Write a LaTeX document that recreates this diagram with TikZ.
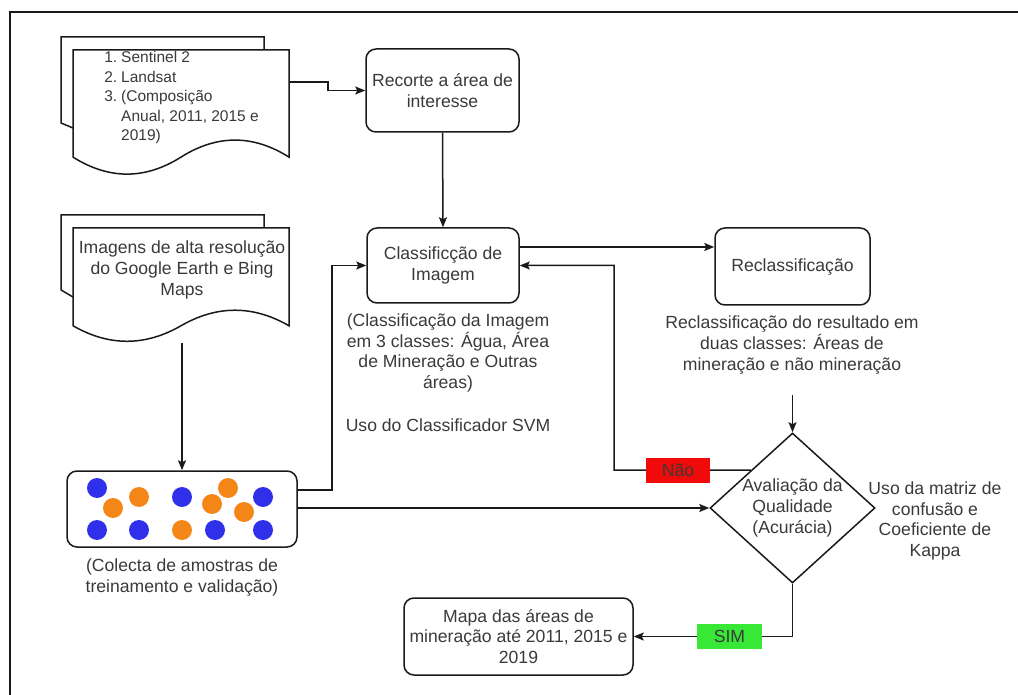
\documentclass[tikz,border=0pt]{standalone}
\usepackage{fontspec}
\setmainfont{Liberation Sans}
\usetikzlibrary{arrows.meta,shapes.geometric,calc}
\definecolor{txt}{HTML}{3A3A3A}
\definecolor{ln}{HTML}{1A1A1A}
\definecolor{dotblue}{RGB}{48,48,235}
\definecolor{dotorange}{RGB}{245,135,25}
\definecolor{nored}{RGB}{240,10,10}
\definecolor{simgreen}{RGB}{55,232,55}
\begin{document}
\begin{tikzpicture}[x=1pt,y=-1pt,
  every node/.style={font=\fontsize{17.6}{20.6}\selectfont, text=txt, align=center},
  box/.style={draw=ln, line width=1.5pt, rounded corners=10pt, inner sep=0pt, fill=white},
  conn/.style={draw=ln, line width=1.5pt, -{Stealth[length=10pt,width=8pt,inset=2pt]}},
  plainline/.style={draw=ln, line width=1.5pt},
  docline/.style={draw=ln, line width=1.5pt, fill=white, line join=miter},
  tag/.style={inner sep=0pt, minimum height=25pt},
  bdot/.style={fill=dotblue},
  odot/.style={fill=dotorange}
 ]
\useasboundingbox (0,0) rectangle (1018,695);
% frame
\draw[ln, line width=2pt] (10,695) -- (10,12) -- (1018,12);

% document 1
\draw[plainline, line join=miter] (73,128) -- (61,123) -- (61,37) -- (264,37) -- (264,50);
\begin{scope}[xshift=73pt, yshift=-50pt, x=216pt, y=-126pt]
  \draw[docline] (0,0) -- (1,0) -- (1,0.85)
    .. controls (0.8333,0.67) and (0.6667,0.67) .. (0.5,0.85)
    .. controls (0.3333,1.03) and (0.1667,1.03) .. (0,0.85) -- cycle;
\end{scope}
\node[anchor=west, align=left, inner sep=0pt, font=\fontsize{15.5}{19.5}\selectfont] (doc1) at (106,97.5)
 {\makebox[11pt][r]{1.}\hspace{4pt}Sentinel 2\\
  \makebox[11pt][r]{2.}\hspace{4pt}Landsat\\
  \makebox[11pt][r]{3.}\hspace{4pt}(Composição\\
  \hspace{15pt}Anual, 2011, 2015 e\\
  \hspace{15pt}2019)};
\coordinate (d1out) at (289,82);

% document 2
\draw[plainline, line join=miter] (73,297) -- (61,290) -- (61,215) -- (264,215) -- (264,228);
\begin{scope}[xshift=73pt, yshift=-228pt, x=216pt, y=-115pt]
  \draw[docline] (0,0) -- (1,0) -- (1,0.85)
    .. controls (0.8333,0.67) and (0.6667,0.67) .. (0.5,0.85)
    .. controls (0.3333,1.03) and (0.1667,1.03) .. (0,0.85) -- cycle;
\end{scope}
\node (doc2) at (182,270) {Imagens de alta resolução\\do Google Earth e Bing\\Maps};
\coordinate (d2out) at (182,343);

% boxes
\node[box, minimum width=153pt, minimum height=83pt] (rec) at (442.5,90.5) {Recorte a área de\\interesse};
\node[box, minimum width=152pt, minimum height=75pt] (cls) at (443,265.5) {Classificção de\\Imagem};
\node[box, minimum width=155pt, minimum height=77pt] (recl) at (792.5,266.5) {Reclassificação};
\node[box, minimum width=230pt, minimum height=76pt] (samp) at (182,509) {};
\node[box, minimum width=229pt, minimum height=77pt] (map) at (518.5,636.5) {Mapa das áreas de\\mineração até 2011, 2015 e\\2019};
\node[diamond, draw=ln, line width=1.5pt, fill=white, inner sep=0pt, shape aspect=1.1,
      minimum width=165pt, minimum height=150pt] (dia) at (792.5,508) {Avaliação da\\Qualidade\\(Acurácia)};

% dots
\foreach \p in {(97,488),(97,530),(139,530),(182,497),(215,530),(263,497),(263,530)}
  \fill[bdot] \p circle[radius=10pt];
\foreach \p in {(113,508),(139,497),(182,530),(212,504),(228,488),(244,512)}
  \fill[odot] \p circle[radius=10pt];

% notes
\node (clsnote) at (448,353) {(Classificação da Imagem\\em 3 classes: Água, Área\\de Mineração e Outras\\áreas)};
\node (svm) at (448,425) {Uso do Classificador SVM};
\node (reclnote) at (792,345) {Reclassificação do resultado em\\duas classes: Áreas de\\mineração e não mineração};
\node (kappa) at (935,521) {Uso da matriz de\\confusão e\\Coeficiente de\\Kappa};
\node (sampnote) at (182,577.5) {(Colecta de amostras de\\treinamento e validação)};
\coordinate (reclout) at (792.5,395);

% connectors
\draw[conn] (d1out) -- ++(39,0) |- (rec.west);
\draw[conn] (rec.south) -- (cls.north);
\coordinate (clsout) at (519,247);
\draw[conn] (clsout) -- (clsout -| recl.west);
\draw[conn] (reclout) -- (dia.north);
\draw[conn] (d2out) -- (samp.north);
\coordinate (sampup) at (297,490);
\draw[conn] (sampup) -- (332,490) |- (cls.west);
\draw[conn] (samp.east |- dia.west) -- (dia.west);
\coordinate (diaup) at ($(dia.west)!0.5!(dia.north)$);
\draw[conn] (diaup) -- (614,470) |- (cls.east);
\node[tag, fill=nored, minimum width=64pt] (nao) at (678,470) {Não};
\draw[conn] (dia.south) |- (map.east);
\node[tag, fill=simgreen, minimum width=65pt] (sim) at (729.5,636.5) {SIM};
\end{tikzpicture}
\end{document}
